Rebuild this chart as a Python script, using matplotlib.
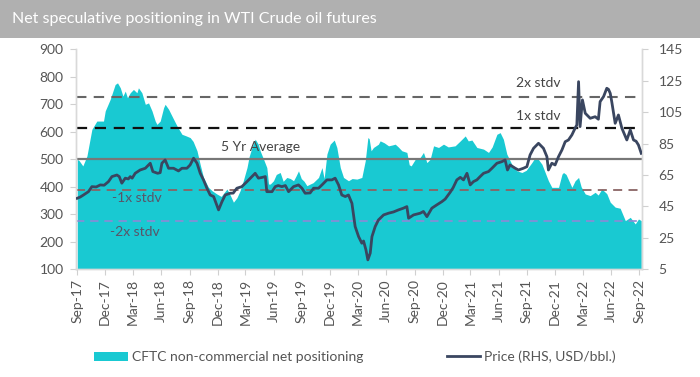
import matplotlib
matplotlib.use("Agg")
import matplotlib.pyplot as plt
import matplotlib.dates as mdates
from matplotlib.patches import Rectangle, Patch
from matplotlib.lines import Line2D
import numpy as np
import pandas as pd

plt.rcParams['font.family'] = ['Lato', 'DejaVu Sans']

START = pd.Timestamp("2017-09-01")

# CFTC non-commercial net positioning (thousand contracts), weeks since START
pos_week = [0, 0.9, 2.6, 4.5, 6.8, 9.1, 12.2, 13.0, 15.3, 17.6, 18.7, 20.0, 21.2, 22.3, 23.3, 24.6,
            26.1, 27.7, 28.4, 30.0, 31.6, 33.1, 34.7, 36.2, 37.0, 38.5, 40.1, 40.8, 42.4, 44.7, 46.4,
            48.6, 50.6, 52.4, 53.8, 55.6, 57.1, 58.6, 60.9, 62.7, 64.8, 66.8, 69.5, 71.0, 72.5, 74.1,
            75.6, 77.0, 78.8, 79.8, 81.1, 82.6, 84.0, 84.9, 86.5, 88.0, 88.8, 89.6, 91.1, 92.4, 94.2,
            95.6, 97.3, 98.9, 100.4, 101.6, 102.7, 104.0, 105.3, 106.6, 108.1, 109.5, 112.0, 113.6,
            114.6, 115.9, 117.4, 119.3, 120.5, 122.1, 123.6, 125.9, 127.6, 129.8, 132.1, 133.7, 134.9,
            135.5, 136.4, 137.5, 139.8, 140.6, 142.5, 144.5, 146.2, 147.6, 149.0, 150.7, 153.0, 154.1,
            155.0, 156.9, 159.2, 160.7, 162.3, 163.8, 165.4, 167.7, 170.0, 172.2, 175.4, 177.8, 180.1,
            181.5, 183.2, 185.5, 188.6, 190.9, 192.6, 194.8, 196.3, 197.8, 199.4, 201.7, 204.1, 206.4,
            208.4, 211.0, 212.6, 214.0, 215.7, 217.2, 218.7, 220.3, 223.4, 225.0, 225.7, 226.9, 229.6,
            231.1, 232.7, 233.9, 235.8, 238.1, 240.4, 241.8, 243.5, 245.8, 247.4, 249.7, 252.0, 254.4,
            256.7, 259.0, 260.5, 261.8]
pos_value = [500, 495, 476, 512, 609, 639, 639, 676, 718, 772, 778, 760, 730, 748, 724, 742,
             754, 742, 760, 742, 700, 705, 676, 639, 627, 639, 688, 700, 682, 646, 620,
             591, 585, 579, 565, 531, 480, 434, 398, 385, 374, 365, 392, 370, 344, 360,
             386, 420, 470, 510, 543, 573, 555, 531, 500, 470, 410, 410, 422, 445, 452,
             420, 434, 430, 422, 440, 458, 430, 420, 404, 410, 415, 434, 470,
             430, 519, 555, 570, 543, 470, 434, 422, 430, 428, 434, 495, 579,
             575, 531, 543, 555, 567, 560, 549, 552, 555, 545, 531, 525, 480,
             476, 500, 507, 525, 488, 500, 549, 543, 555, 545, 549, 567, 585,
             567, 570, 543, 537, 525, 545, 591, 597, 573, 519, 482, 458, 452,
             460, 488, 507, 500, 482, 452, 422, 398, 398, 446, 452, 445, 398,
             422, 434, 400, 374, 368, 380, 370, 392, 375, 344, 326, 322, 277,
             289, 265, 283, 277]

# WTI price (USD/bbl), weeks since START
price_week = [0, 1.4, 2.9, 5.2, 6.8, 8.8, 10.7, 12.5, 14.5, 16.1, 18.4, 19.5, 20.7, 22.3, 23.7, 24.6,
              25.5, 26.9, 29.2, 31.6, 33.1, 33.9, 35.1, 37.3, 38.5, 39.3, 40.8, 42.4, 44.7, 47.0,
              48.6, 50.9, 52.4, 54.0, 55.6, 57.1, 58.6, 60.2, 61.7, 63.3, 65.6, 67.2, 68.7, 71.0,
              72.4, 74.1, 76.4, 78.8, 81.1, 82.6, 84.1, 85.9, 87.3, 88.0, 90.4, 91.9, 93.3, 95.0,
              96.6, 98.1, 100.4, 102.7, 104.3, 105.8, 108.1, 109.7, 112.0, 113.6, 115.9, 118.2,
              119.7, 121.3, 122.8, 124.4, 125.9, 127.5, 129.0, 130.6, 132.1, 132.9, 134.0, 134.9,
              136.0, 136.8, 138.3, 139.8, 142.2, 144.5, 146.8, 149.1, 151.4, 153.0, 153.8, 156.1,
              159.2, 160.7, 162.3, 164.6, 166.9, 169.3, 170.8, 173.1, 174.5, 176.2, 177.8, 179.3,
              180.9, 182.4, 183.9, 185.5, 187.0, 188.6, 190.9, 192.5, 194.8, 197.1, 198.6, 199.7,
              200.9, 203.3, 204.8, 207.1, 208.7, 210.2, 211.8, 214.1, 216.4, 218.0, 218.7, 220.3,
              221.8, 223.4, 225.0, 226.5, 228.0, 229.6, 231.1, 231.9, 232.7, 233.4, 234.5, 235.8,
              238.1, 240.4, 241.9, 242.7, 244.3, 245.8, 246.6, 247.4, 248.1, 249.7, 251.2, 252.8,
              255.1, 256.7, 258.2, 259.4, 260.5, 261.8]
price_value = [50.2, 51, 52.3, 54.4, 57.6, 57.4, 58.7, 58.5, 60.8, 64, 65, 64, 59.8, 63, 62.5, 64,
               63, 66.1, 68.2, 69.3, 71.4, 72.5, 67.2, 66.1, 66.5, 72.5, 74.6, 69.3, 69.3, 67.6,
               69.3, 69.3, 71.4, 75.7, 72.5, 66.1, 61.9, 56.6, 52.3, 51.3, 42.8, 48.1, 52.3, 53.4,
               53.5, 56.6, 57.6, 60.8, 64, 66.1, 63, 63.5, 64, 54.4, 54.4, 57.6, 58.3, 57.6,
               58.3, 54.4, 57.6, 58.7, 56.6, 53.4, 53.6, 56.6, 56.6, 58.7, 61.9, 61.9,
               63, 58.7, 52.3, 51.3, 52.3, 47, 32.2, 25.8, 21.6, 23, 17.4, 11,
               15.3, 25.8, 32.2, 36.4, 39.6, 40.7, 41.5, 42.8, 43.9, 44.9, 37.5, 39.6,
               40.7, 41.8, 38.5, 43.9, 46, 48.1, 49.7, 54, 57, 61.9, 63.5, 61.9,
               66.1, 58.7, 60.8, 61.9, 64, 66.1, 67.2, 69.3, 72.5, 73.5, 74.6, 68.2,
               71.4, 69.3, 68.2, 69.3, 70.3, 77.8, 82, 85.2, 82, 76.7, 68.2, 72.5,
               71.4, 76.7, 81, 86.2, 87.3, 90.5, 94.8, 96.9, 124.4, 95.8, 112.8, 104.3,
               101.1, 102.1, 100.5, 111.7, 114.9, 120.2, 119.5, 117, 111.7, 97.9, 103.2, 94.8,
               87.3, 93.7, 87.3, 86.5, 84.1, 78.8]

avg_5yr = 500
std_5yr = 113
band_labels = ["2x stdv", "1x stdv", "5 Yr Average", "-1x stdv", "-2x stdv"]
band_mult = [2, 1, 0, -1, -2]

tick_labels = ["Sep-17", "Dec-17", "Mar-18", "Jun-18", "Sep-18", "Dec-18", "Mar-19", "Jun-19",
               "Sep-19", "Dec-19", "Mar-20", "Jun-20", "Sep-20", "Dec-20", "Mar-21", "Jun-21",
               "Sep-21", "Dec-21", "Mar-22", "Jun-22", "Sep-22"]
left_ticks = [100, 200, 300, 400, 500, 600, 700, 800, 900]
right_ticks = [5, 25, 45, 65, 85, 105, 125, 145]

def to_dates(weeks):
    return [START + pd.Timedelta(days=7 * w) for w in weeks]

pos_dates = to_dates(pos_week)
price_dates = to_dates(price_week)
tick_dates = [pd.Timestamp(pd.to_datetime(t, format="%b-%y")) for t in tick_labels]

FILL = "#19c9d2"
LINE = "#3a4660"
TXT = "#555555"

fig = plt.figure(figsize=(7.0, 3.77), dpi=100)
# title bar
fig.patches.append(Rectangle((0, 1 - 38 / 377), 1, 38 / 377, transform=fig.transFigure,
                             facecolor="#b0b0b0", edgecolor="none", zorder=0))
fig.text(12 / 700, 1 - 19 / 377, "Net speculative positioning in WTI Crude oil futures",
         color="white", fontsize=11.5, va="center", ha="left")

ax = fig.add_axes([76 / 700, 1 - 269.3 / 377, (642 - 76) / 700, 220 / 377])
ax2 = ax.twinx()

ax.fill_between(pos_dates, 100, pos_value, color=FILL, linewidth=0, zorder=1)

levels = [avg_5yr + m * std_5yr for m in band_mult]
styles = {
    2: dict(color="#666666", ls=(0, (5, 3.5)), lw=1.5),
    1: dict(color="#111111", ls=(0, (5, 3.5)), lw=1.6),
    0: dict(color="#777777", ls="-", lw=1.6),
    -1: dict(color="#8a6464", ls=(0, (5, 3.5)), lw=1.3),
    -2: dict(color="#8c8ad6", ls=(0, (5, 3.5)), lw=1.2),
}
for m, lev in zip(band_mult, levels):
    ax.axhline(lev, zorder=2, **styles[m])

label_pos = {
    2: (214, 777, "#444444"),
    1: (214, 657, "#444444"),
    0: (85, 545, "#444444"),
    -1: (27.8, 359, "#5a5468"),
    -2: (26.9, 236, "#5a5468"),
}
for m, lab in zip(band_mult, band_labels):
    w, yv, c = label_pos[m]
    ax.text(START + pd.Timedelta(days=7 * w), yv, lab, ha="center", va="center",
            fontsize=10, color=c, zorder=3)

ax2.plot(price_dates, price_value, color=LINE, lw=2.0, solid_joinstyle="round", zorder=4)

ax.set_ylim(100, 900)
ax2.set_ylim(5, 145)
ax.set_xlim(pd.Timestamp("2017-08-28"), pd.Timestamp("2022-09-10"))
ax.set_yticks(left_ticks)
ax2.set_yticks(right_ticks)
ax.set_xticks(tick_dates)
ax.set_xticklabels(tick_labels, rotation=90)

for a in (ax, ax2):
    a.spines["top"].set_visible(False)
    for s in ("left", "right", "bottom"):
        a.spines[s].set_color("#d9d9d9")
        a.spines[s].set_linewidth(1.0)
    a.tick_params(colors="#d0d0d0", labelcolor=TXT, labelsize=10, length=4, width=0.8)
ax.tick_params(axis="y", pad=5)
ax2.tick_params(axis="y", pad=8)
ax.tick_params(axis="x", pad=3)

handles = [Patch(facecolor=FILL, edgecolor="none"),
           Line2D([0], [0], color=LINE, lw=2.0)]
fig.legend(handles, ["CFTC non-commercial net positioning", "Price (RHS, USD/bbl.)"],
           loc="center", bbox_to_anchor=(355 / 700, 1 - 357 / 377), ncol=2, frameon=False,
           fontsize=10, handlelength=2.4, handletextpad=0.3, columnspacing=6.0,
           labelcolor=TXT)

fig.savefig("out.png", dpi=100)
